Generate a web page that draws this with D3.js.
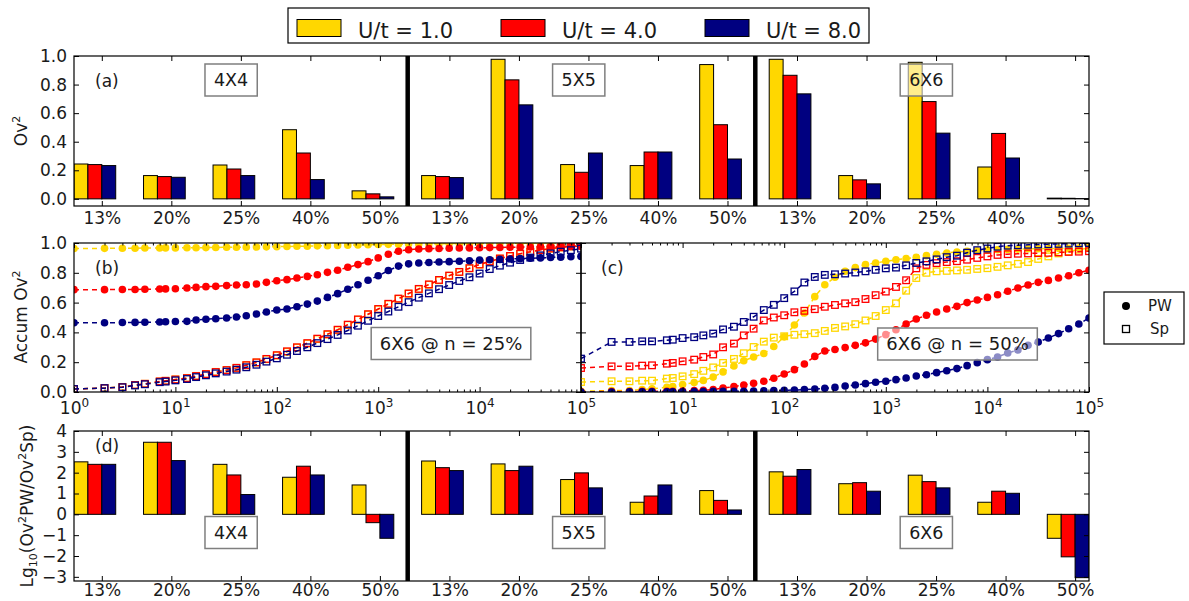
<!DOCTYPE html>
<html>
<head>
<meta charset="utf-8">
<script src="https://cdn.jsdelivr.net/npm/d3@7"></script>
<style>
  body { margin: 0; background: #fff; }
</style>
</head>
<body>
<div id="chart"></div>
<script>
// Size of the figure
const width = 1189;
const height = 601;
const FONT = "DejaVu Sans, sans-serif";

// Categories
const fillings = ["13%", "20%", "25%", "40%", "50%"];
const lattices = ["4X4", "5X5", "6X6"];
const uLabels = ["U/t = 1.0", "U/t = 4.0", "U/t = 8.0"];
const uColors = ["#ffd700", "#ff0000", "#000080"];

// (a) Ov^2, 15 bars per U (4X4, 5X5, 6X6 x fillings)
const ovU1 = [0.244, 0.163, 0.237, 0.484, 0.056, 0.163, 0.977, 0.240, 0.233, 0.940, 0.977, 0.163, 0.956, 0.223, 0.005];
const ovU4 = [0.240, 0.156, 0.209, 0.321, 0.035, 0.156, 0.833, 0.186, 0.328, 0.519, 0.865, 0.133, 0.681, 0.458, 0.004];
const ovU8 = [0.233, 0.151, 0.163, 0.135, 0.014, 0.149, 0.658, 0.321, 0.328, 0.279, 0.735, 0.105, 0.460, 0.286, 0.002];

// (d) Lg10(Ov^2 PW / Ov^2 Sp)
const lgU1 = [2.52, 3.46, 2.40, 1.78, 1.41, 2.56, 2.42, 1.67, 0.58, 1.14, 2.04, 1.47, 1.88, 0.58, -1.15];
const lgU4 = [2.40, 3.46, 1.89, 2.31, -0.40, 2.24, 2.10, 1.99, 0.88, 0.67, 1.83, 1.52, 1.57, 1.11, -2.04];
const lgU8 = [2.40, 2.58, 0.95, 1.89, -1.15, 2.10, 2.31, 1.27, 1.41, 0.21, 2.15, 1.11, 1.27, 1.01, -3.04];

// (b),(c) accumulated overlap vs number of states
const nStates = [1, 2, 3, 4, 5, 7, 8, 10, 13, 16, 20, 25, 32, 40, 50, 63, 79, 100, 126, 158, 200, 251, 316, 398, 501, 631, 794, 1000,
  1259, 1585, 1995, 2512, 3162, 3981, 5012, 6310, 7943, 10000, 12589, 15849, 19953, 25119, 31623, 39811, 50119, 63096, 79433, 100000];

// (b) n = 25%
const bPwU1 = [0.963, 0.964, 0.965, 0.965, 0.966, 0.966, 0.967, 0.967, 0.968, 0.968, 0.969, 0.970, 0.971, 0.971, 0.972, 0.973, 0.974, 0.975,
  0.977, 0.978, 0.979, 0.981, 0.982, 0.984, 0.985, 0.987, 0.988, 0.990, 0.991, 0.992, 0.993, 0.994, 0.995, 0.995, 0.996, 0.997, 0.997, 0.998,
  0.998, 0.998, 0.999, 0.999, 0.999, 1.0, 1.0, 1.0, 1.0, 1.0];
const bPwU4 = [0.687, 0.687, 0.688, 0.688, 0.690, 0.691, 0.692, 0.693, 0.698, 0.702, 0.707, 0.709, 0.714, 0.718, 0.720, 0.725, 0.736, 0.747,
  0.754, 0.765, 0.776, 0.787, 0.803, 0.817, 0.837, 0.855, 0.875, 0.900, 0.925, 0.945, 0.955, 0.960, 0.962, 0.963, 0.965, 0.966, 0.967, 0.968,
  0.969, 0.970, 0.971, 0.972, 0.973, 0.974, 0.975, 0.976, 0.977, 0.978];
const bPwU8 = [0.465, 0.465, 0.466, 0.467, 0.468, 0.470, 0.471, 0.473, 0.474, 0.483, 0.488, 0.492, 0.497, 0.503, 0.512, 0.523, 0.537, 0.550,
  0.557, 0.572, 0.590, 0.610, 0.635, 0.660, 0.690, 0.720, 0.750, 0.780, 0.815, 0.845, 0.860, 0.866, 0.869, 0.872, 0.875, 0.878, 0.881, 0.885,
  0.888, 0.890, 0.893, 0.895, 0.898, 0.900, 0.903, 0.905, 0.908, 0.910];
const bSpU1 = [0.020, 0.027, 0.034, 0.046, 0.055, 0.070, 0.075, 0.084, 0.094, 0.108, 0.120, 0.135, 0.148, 0.162, 0.180, 0.198, 0.220, 0.245,
  0.270, 0.298, 0.325, 0.355, 0.385, 0.415, 0.450, 0.485, 0.520, 0.555, 0.590, 0.625, 0.660, 0.690, 0.720, 0.750, 0.780, 0.805, 0.830, 0.855,
  0.875, 0.895, 0.912, 0.927, 0.940, 0.952, 0.962, 0.970, 0.977, 0.982];
const bSpU4 = [0.020, 0.026, 0.033, 0.047, 0.055, 0.071, 0.075, 0.084, 0.093, 0.107, 0.120, 0.134, 0.147, 0.162, 0.180, 0.199, 0.222, 0.247,
  0.273, 0.300, 0.328, 0.358, 0.388, 0.418, 0.452, 0.487, 0.522, 0.557, 0.592, 0.627, 0.661, 0.692, 0.722, 0.752, 0.781, 0.806, 0.831, 0.856,
  0.876, 0.896, 0.913, 0.928, 0.941, 0.953, 0.963, 0.971, 0.978, 0.983];
const bSpU8 = [0.020, 0.026, 0.032, 0.044, 0.052, 0.066, 0.070, 0.078, 0.087, 0.100, 0.112, 0.125, 0.137, 0.150, 0.166, 0.183, 0.204, 0.226,
  0.250, 0.275, 0.300, 0.328, 0.355, 0.383, 0.413, 0.445, 0.478, 0.510, 0.540, 0.572, 0.603, 0.633, 0.662, 0.690, 0.718, 0.745, 0.770, 0.795,
  0.825, 0.848, 0.868, 0.886, 0.902, 0.917, 0.930, 0.942, 0.952, 0.962];

// (c) n = 50%
const cPwU1 = [0.005, 0.010, 0.010, 0.016, 0.022, 0.032, 0.036, 0.050, 0.063, 0.078, 0.100, 0.135, 0.175, 0.210, 0.235, 0.258, 0.305, 0.370,
  0.450, 0.530, 0.640, 0.720, 0.770, 0.810, 0.835, 0.855, 0.866, 0.877, 0.888, 0.895, 0.904, 0.915, 0.925, 0.933, 0.940, 0.944, 0.948, 0.952,
  0.955, 0.957, 0.959, 0.961, 0.962, 0.963, 0.964, 0.965, 0.966, 0.967];
const cPwU4 = [0.002, 0.003, 0.003, 0.004, 0.004, 0.005, 0.005, 0.006, 0.009, 0.011, 0.016, 0.027, 0.036, 0.047, 0.058, 0.072, 0.092, 0.121,
  0.150, 0.188, 0.239, 0.275, 0.285, 0.298, 0.313, 0.330, 0.355, 0.385, 0.418, 0.456, 0.490, 0.515, 0.537, 0.557, 0.575, 0.600, 0.617, 0.635,
  0.653, 0.676, 0.698, 0.718, 0.736, 0.749, 0.765, 0.780, 0.800, 0.817];
const cPwU8 = [0.000, 0.000, 0.001, 0.001, 0.001, 0.002, 0.002, 0.002, 0.003, 0.003, 0.004, 0.004, 0.005, 0.005, 0.006, 0.008, 0.010, 0.011,
  0.013, 0.016, 0.020, 0.025, 0.031, 0.040, 0.047, 0.056, 0.065, 0.072, 0.083, 0.094, 0.107, 0.116, 0.130, 0.143, 0.157, 0.177, 0.197, 0.217,
  0.235, 0.262, 0.282, 0.313, 0.336, 0.362, 0.392, 0.425, 0.456, 0.497];
const cSpU1 = [0.067, 0.072, 0.072, 0.076, 0.076, 0.090, 0.094, 0.105, 0.120, 0.142, 0.165, 0.195, 0.222, 0.260, 0.302, 0.338, 0.365, 0.374,
  0.384, 0.388, 0.395, 0.410, 0.430, 0.440, 0.455, 0.480, 0.510, 0.550, 0.595, 0.680, 0.765, 0.800, 0.810, 0.813, 0.816, 0.820, 0.826, 0.831,
  0.840, 0.850, 0.860, 0.872, 0.893, 0.910, 0.930, 0.944, 0.955, 0.966];
const cSpU4 = [0.161, 0.172, 0.172, 0.177, 0.179, 0.190, 0.195, 0.206, 0.217, 0.235, 0.252, 0.300, 0.325, 0.380, 0.425, 0.480, 0.500, 0.515,
  0.535, 0.545, 0.556, 0.572, 0.584, 0.595, 0.603, 0.624, 0.650, 0.674, 0.705, 0.750, 0.830, 0.853, 0.865, 0.872, 0.878, 0.888, 0.900, 0.910,
  0.920, 0.925, 0.928, 0.930, 0.932, 0.934, 0.937, 0.940, 0.942, 0.945];
const cSpU8 = [0.224, 0.336, 0.336, 0.340, 0.340, 0.347, 0.351, 0.362, 0.368, 0.380, 0.392, 0.420, 0.438, 0.470, 0.505, 0.550, 0.585, 0.630,
  0.675, 0.735, 0.772, 0.786, 0.790, 0.795, 0.802, 0.810, 0.820, 0.830, 0.835, 0.850, 0.866, 0.877, 0.890, 0.905, 0.915, 0.935, 0.952, 0.963,
  0.975, 0.982, 0.985, 0.988, 0.990, 0.992, 0.994, 0.996, 0.998, 1.000];

// Tick values
const ovTicks = [0, 0.2, 0.4, 0.6, 0.8, 1.0];
const lgTicks = [-3, -2, -1, 0, 1, 2, 3, 4];
const accTicks = [0, 0.2, 0.4, 0.6, 0.8, 1.0];
const decades = [1, 10, 100, 1000, 10000, 100000];

// Create the SVG
const svg = d3.select("#chart")
  .append("svg")
  .attr("width", width)
  .attr("height", height)
  .style("font-family", FONT);

const defs = svg.append("defs");

function makeClip(id, x0, y0, x1, y1) {
  defs.append("clipPath").attr("id", id)
    .append("rect")
    .attr("x", x0).attr("y", y0)
    .attr("width", x1 - x0).attr("height", y1 - y0);
  return `url(#${id})`;
}

// Scales
const xCat = d3.scaleLinear().domain([-0.4, 14.2]).range([74, 1089]);
const yA = d3.scaleLinear().domain([-0.05, 1.0]).range([206, 56]);
const yD = d3.scaleLinear().domain([-3.2, 4]).range([581, 431]);
const xB = d3.scaleLog().domain([1, 1e5]).range([74, 581]);
const xC = d3.scaleLog().domain([1, 1e5]).range([581, 1089]);
const yBC = d3.scaleLinear().domain([0, 1]).range([392, 243]);

// Common axis styling
function styleAxis(g) {
  g.select(".domain").remove();
  g.attr("font-family", FONT).attr("font-size", 17);
  g.selectAll("line").attr("stroke", "#000");
  g.selectAll("text").attr("fill", "#1a1a1a");
}

// Rich text with super/subscripts (dy only where the baseline moves)
function rich(textSel, parts, small) {
  let shift = 0;
  parts.forEach(([s, kind]) => {
    const target = kind === "sup" ? -7 : kind === "sub" ? 4 : 0;
    const ts = textSel.append("tspan").text(s);
    if (target !== shift) ts.attr("dy", target - shift);
    if (kind) ts.attr("font-size", small || 12);
    shift = target;
  });
}

function frame(x0, y0, x1, y1) {
  svg.append("rect")
    .attr("x", x0).attr("y", y0)
    .attr("width", x1 - x0).attr("height", y1 - y0)
    .attr("fill", "none").attr("stroke", "#000").attr("stroke-width", 1.2);
}

// Bar panels (a) and (d)
function barPanel(yScale, series, top, bottom, yTicks, yFmt, id, labelPad) {
  const bars = svg.append("g").attr("clip-path", makeClip(id, 74, top, 1089, bottom));
  const bw = xCat(0.2) - xCat(0);
  series.forEach((vals, s) => {
    bars.selectAll(null)
      .data(vals)
      .enter()
      .append("rect")
      .attr("x", (d, i) => xCat(i - 0.4 + 0.2 * s))
      .attr("y", d => yScale(Math.max(d, 0)))
      .attr("width", bw)
      .attr("height", d => Math.abs(yScale(d) - yScale(0)))
      .attr("fill", uColors[s])
      .attr("stroke", "#000")
      .attr("stroke-width", 1);
  });

  // thick separators between lattice sizes
  bars.selectAll(null)
    .data([4.4, 9.4])
    .enter()
    .append("line")
    .attr("x1", d => xCat(d)).attr("x2", d => xCat(d))
    .attr("y1", top).attr("y2", bottom)
    .attr("stroke", "#000").attr("stroke-width", 4.5);

  const idx = d3.range(15);
  svg.append("g")
    .attr("transform", `translate(0,${bottom})`)
    .call(d3.axisBottom(xCat).tickValues(idx).tickFormat(i => fillings[i % 5])
      .tickSizeInner(-5).tickSizeOuter(0).tickPadding(labelPad))
    .call(styleAxis);
  svg.append("g")
    .attr("transform", `translate(0,${top})`)
    .call(d3.axisTop(xCat).tickValues(idx).tickFormat(() => "").tickSizeInner(-5).tickSizeOuter(0))
    .call(styleAxis);
  svg.append("g")
    .attr("transform", "translate(74,0)")
    .call(d3.axisLeft(yScale).tickValues(yTicks).tickFormat(yFmt).tickSizeInner(-5).tickSizeOuter(0).tickPadding(7))
    .call(styleAxis);
  svg.append("g")
    .attr("transform", "translate(1089,0)")
    .call(d3.axisRight(yScale).tickValues(yTicks).tickFormat(() => "").tickSizeInner(-5).tickSizeOuter(0))
    .call(styleAxis);
  frame(74, top, 1089, bottom);
}

barPanel(yA, [ovU1, ovU4, ovU8], 56, 206, ovTicks, d3.format(".1f"), "clipA", 6);
barPanel(yD, [lgU1, lgU4, lgU8], 431, 581, lgTicks, d3.format("d"), "clipD", 3);

// Accumulated overlap panels (b) and (c)
const minorTicks = [];
decades.slice(0, 5).forEach(p => { for (let k = 2; k <= 9; k++) minorTicks.push(p * k); });

function logPanel(xScale, left, right, pw, sp, id, firstLabel, yLabels) {
  const g = svg.append("g").attr("clip-path", makeClip(id, left, 243, right, 392));
  const line = d3.line().x(d => xScale(d[0])).y(d => yBC(d[1]));

  [0, 1, 2].forEach(s => {
    const pwPts = nStates.map((n, i) => [n, pw[s][i]]);
    const spPts = nStates.map((n, i) => [n, sp[s][i]]);

    g.append("path").datum(pwPts)
      .attr("d", line).attr("fill", "none")
      .attr("stroke", uColors[s]).attr("stroke-width", 1.5).attr("stroke-dasharray", "5,4");
    g.selectAll(null).data(pwPts).enter().append("circle")
      .attr("cx", d => xScale(d[0])).attr("cy", d => yBC(d[1]))
      .attr("r", 3.8).attr("fill", uColors[s]);

    g.append("path").datum(spPts)
      .attr("d", line).attr("fill", "none")
      .attr("stroke", uColors[s]).attr("stroke-width", 1.5).attr("stroke-dasharray", "5,4");
    g.selectAll(null).data(spPts).enter().append("rect")
      .attr("x", d => xScale(d[0]) - 3.3).attr("y", d => yBC(d[1]) - 3.3)
      .attr("width", 6.6).attr("height", 6.6)
      .attr("fill", "none").attr("stroke", uColors[s]).attr("stroke-width", 1.3);
  });

  // x axes, major and minor ticks on both sides
  const bottomAxis = svg.append("g")
    .attr("transform", "translate(0,392)")
    .call(d3.axisBottom(xScale).tickValues(decades).tickFormat(() => "").tickSizeInner(-5).tickSizeOuter(0).tickPadding(8))
    .call(styleAxis);
  bottomAxis.selectAll(".tick").each(function (d) {
    if (d === 1 && !firstLabel) return;
    const t = d3.select(this).select("text")
      .attr("text-anchor", "middle").attr("y", 22).attr("dy", null);
    rich(t, [["10", null], [String(Math.round(Math.log10(d))), "sup"]]);
  });
  svg.append("g")
    .attr("transform", "translate(0,392)")
    .call(d3.axisBottom(xScale).tickValues(minorTicks).tickFormat(() => "").tickSizeInner(-2.5).tickSizeOuter(0))
    .call(styleAxis);
  svg.append("g")
    .attr("transform", "translate(0,243)")
    .call(d3.axisTop(xScale).tickValues(decades).tickFormat(() => "").tickSizeInner(-5).tickSizeOuter(0))
    .call(styleAxis);
  svg.append("g")
    .attr("transform", "translate(0,243)")
    .call(d3.axisTop(xScale).tickValues(minorTicks).tickFormat(() => "").tickSizeInner(-2.5).tickSizeOuter(0))
    .call(styleAxis);

  svg.append("g")
    .attr("transform", `translate(${left},0)`)
    .call(d3.axisLeft(yBC).tickValues(accTicks).tickFormat(yLabels ? d3.format(".1f") : () => "")
      .tickSizeInner(-5).tickSizeOuter(0).tickPadding(7))
    .call(styleAxis);
  svg.append("g")
    .attr("transform", `translate(${right},0)`)
    .call(d3.axisRight(yBC).tickValues(accTicks).tickFormat(() => "").tickSizeInner(-5).tickSizeOuter(0))
    .call(styleAxis);
  frame(left, 243, right, 392);
}

logPanel(xB, 74, 581, [bPwU1, bPwU4, bPwU8], [bSpU1, bSpU4, bSpU8], "clipB", true, true);
logPanel(xC, 581, 1089, [cPwU1, cPwU4, cPwU8], [cSpU1, cSpU4, cSpU8], "clipC", false, false);

// Annotation boxes with translucent white background
function noteBox(cx, cy, label, fontSize, pad) {
  const g = svg.append("g");
  const rect = g.append("rect");
  const t = g.append("text")
    .attr("x", cx).attr("y", cy)
    .attr("text-anchor", "middle").attr("dy", "0.36em")
    .attr("font-size", fontSize).attr("fill", "#1a1a1a")
    .text(label);
  const w = t.node().getComputedTextLength();
  rect.attr("x", cx - w / 2 - pad).attr("y", cy - 16)
    .attr("width", w + 2 * pad).attr("height", 32)
    .attr("fill", "#fff").attr("fill-opacity", 0.55)
    .attr("stroke", "#7f7f7f").attr("stroke-width", 1.5);
}

lattices.forEach((name, k) => {
  noteBox(xCat(1.86 + 5 * k), 80, name, 17.5, 9);
  noteBox(xCat(1.86 + 5 * k), 532.5, name, 17.5, 9);
});
noteBox(451, 343.5, "6X6 @ n = 25%", 18, 8.5);
noteBox(957.5, 344, "6X6 @ n = 50%", 18, 8.5);

// Panel tags
[["(a)", 95, 87], ["(b)", 95, 274], ["(c)", 601, 274], ["(d)", 95, 452]].forEach(([s, x, y]) => {
  svg.append("text").attr("x", x).attr("y", y)
    .attr("font-size", 17).attr("fill", "#1a1a1a").text(s);
});

// Y axis labels
function yLabel(x, y, parts) {
  const t = svg.append("text")
    .attr("transform", `translate(${x},${y}) rotate(-90)`)
    .attr("text-anchor", "middle")
    .attr("font-size", 17).attr("fill", "#1a1a1a");
  rich(t, parts, 11);
}
yLabel(27, 131, [["Ov", null], ["2", "sup"]]);
yLabel(27, 317, [["Accum Ov", null], ["2", "sup"]]);
yLabel(33, 506, [["Lg", null], ["10", "sub"], ["(Ov", null], ["2", "sup"], ["PW/Ov", null], ["2", "sup"], ["Sp)", null]]);

// Top legend for U/t
const legend = svg.append("g");
legend.append("rect")
  .attr("x", 288).attr("y", 8).attr("width", 581).attr("height", 35)
  .attr("fill", "#fff").attr("stroke", "#000").attr("stroke-width", 1.2);
uLabels.forEach((lab, s) => {
  const x0 = 297 + s * 204;
  legend.append("rect")
    .attr("x", x0).attr("y", 19.5).attr("width", 44).attr("height", 17)
    .attr("fill", uColors[s]).attr("stroke", "#000").attr("stroke-width", 1);
  legend.append("text")
    .attr("x", x0 + 61).attr("y", 37.5)
    .attr("font-size", 21).attr("fill", "#1a1a1a").text(lab);
});

// Marker legend PW / Sp
const mk = svg.append("g");
mk.append("rect")
  .attr("x", 1104).attr("y", 292).attr("width", 80).attr("height", 52)
  .attr("fill", "#fff").attr("stroke", "#000").attr("stroke-width", 1.2);
mk.append("circle").attr("cx", 1126).attr("cy", 306).attr("r", 4).attr("fill", "#000");
mk.append("rect").attr("x", 1122.5).attr("y", 325.5).attr("width", 7).attr("height", 7)
  .attr("fill", "none").attr("stroke", "#000").attr("stroke-width", 1.3);
mk.append("text").attr("x", 1148).attr("y", 311).attr("font-size", 15).attr("fill", "#1a1a1a").text("PW");
mk.append("text").attr("x", 1150).attr("y", 334).attr("font-size", 15).attr("fill", "#1a1a1a").text("Sp");
</script>
</body>
</html>
